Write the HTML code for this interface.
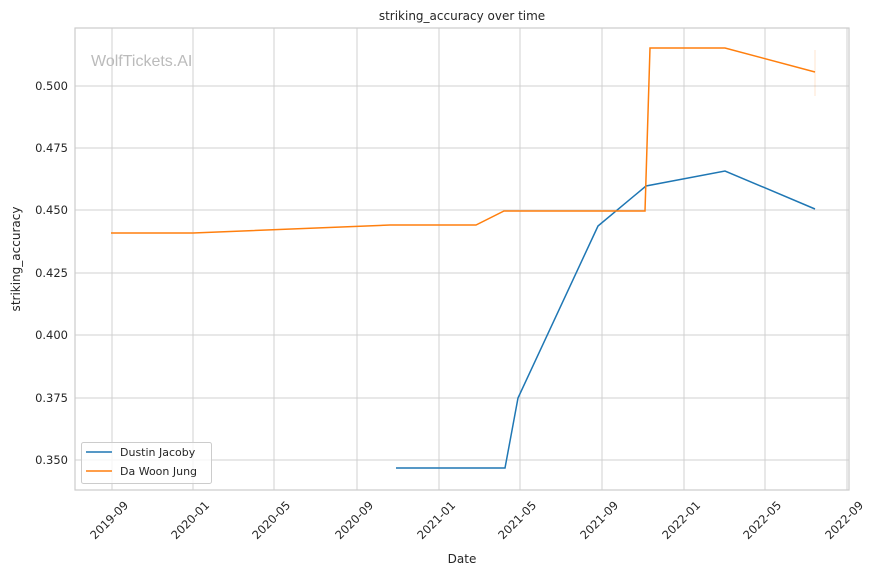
<!DOCTYPE html>
<html><head><meta charset="utf-8"><style>body{margin:0;background:#fff}</style></head><body>
<svg width="879" height="575" xmlns="http://www.w3.org/2000/svg" font-family="DejaVu Sans, Liberation Sans, sans-serif">
<rect width="879" height="575" fill="#fff"/>
<g stroke="#d0d0d0" stroke-width="1">
<line x1="112" y1="28" x2="112" y2="490"/><line x1="193" y1="28" x2="193" y2="490"/><line x1="274" y1="28" x2="274" y2="490"/><line x1="357" y1="28" x2="357" y2="490"/><line x1="439" y1="28" x2="439" y2="490"/><line x1="520" y1="28" x2="520" y2="490"/><line x1="602" y1="28" x2="602" y2="490"/><line x1="684" y1="28" x2="684" y2="490"/><line x1="765" y1="28" x2="765" y2="490"/><line x1="847" y1="28" x2="847" y2="490"/>
<line x1="75" y1="86" x2="849" y2="86"/><line x1="75" y1="148" x2="849" y2="148"/><line x1="75" y1="210" x2="849" y2="210"/><line x1="75" y1="273" x2="849" y2="273"/><line x1="75" y1="335" x2="849" y2="335"/><line x1="75" y1="398" x2="849" y2="398"/><line x1="75" y1="460" x2="849" y2="460"/>
</g>
<rect x="75" y="28" width="774" height="462" fill="none" stroke="#cccccc" stroke-width="1.2"/>
<text x="91" y="66" font-size="16" fill="#bbbbbb" font-family="Liberation Sans, sans-serif">WolfTickets.AI</text>
<line x1="815" y1="50" x2="815" y2="96" stroke="#ff7f0e" stroke-opacity="0.2"/>
<polyline fill="none" stroke="#1f77b4" stroke-width="1.5" points="396,468 505,468 518,398 598,226 646,186 725,171 815,209"/>
<polyline fill="none" stroke="#ff7f0e" stroke-width="1.5" points="111,233 193,233 390,225 476,225 504,211 645,211 650,48 725,48 815,72"/>
<g font-size="11.5" fill="#262626" text-anchor="end">
<text x="68" y="90">0.500</text><text x="68" y="152">0.475</text><text x="68" y="214">0.450</text><text x="68" y="277">0.425</text><text x="68" y="339">0.400</text><text x="68" y="402">0.375</text><text x="68" y="464">0.350</text>
</g>
<g font-size="11.5" fill="#262626" text-anchor="end">
<text transform="translate(129,506) rotate(-45)">2019-09</text>
<text transform="translate(210,506) rotate(-45)">2020-01</text>
<text transform="translate(291,506) rotate(-45)">2020-05</text>
<text transform="translate(374,506) rotate(-45)">2020-09</text>
<text transform="translate(456,506) rotate(-45)">2021-01</text>
<text transform="translate(537,506) rotate(-45)">2021-05</text>
<text transform="translate(619,506) rotate(-45)">2021-09</text>
<text transform="translate(701,506) rotate(-45)">2022-01</text>
<text transform="translate(782,506) rotate(-45)">2022-05</text>
<text transform="translate(864,506) rotate(-45)">2022-09</text>
</g>
<text x="462" y="20" font-size="12" fill="#262626" text-anchor="middle">striking_accuracy over time</text>
<text x="462" y="563" font-size="12" fill="#262626" text-anchor="middle">Date</text>
<text transform="translate(20,259) rotate(-90)" font-size="12" fill="#262626" text-anchor="middle">striking_accuracy</text>
<rect x="81.5" y="442.5" width="130" height="41" rx="2" fill="#fff" fill-opacity="0.8" stroke="#cccccc"/>
<line x1="86" y1="452" x2="112" y2="452" stroke="#1f77b4" stroke-width="1.5"/>
<line x1="86" y1="471" x2="112" y2="471" stroke="#ff7f0e" stroke-width="1.5"/>
<text x="120" y="456" font-size="11" fill="#262626">Dustin Jacoby</text>
<text x="120" y="475" font-size="11" fill="#262626">Da Woon Jung</text>
</svg>
</body></html>
